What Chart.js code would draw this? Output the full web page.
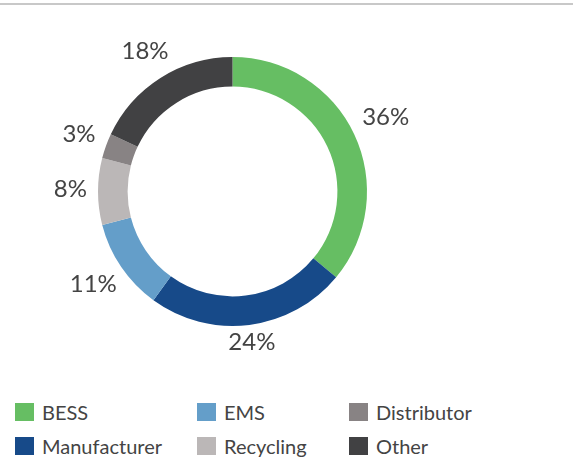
<!DOCTYPE html>
<html>
<head>
<meta charset="utf-8">
<script src="https://cdn.jsdelivr.net/npm/chart.js@4/dist/chart.umd.min.js"></script>
<style>
    html, body { margin: 0; padding: 0; background: #fff; }
    body { width: 573px; height: 458px; position: relative; overflow: hidden; font-family: Lato, 'Open Sans', sans-serif; }
    .topline { position: absolute; left: 0; top: 3px; width: 573px; height: 2px; background: #c8c8c8; }
    .chart-box { position: absolute; left: 0; top: 0; width: 465px; height: 383px; }
    #legend {
        position: absolute; left: 15px; top: 395px;
        display: grid; grid-template-rows: 34px 34px; grid-auto-flow: column;
        grid-template-columns: 182px 152px auto;
    }
    .item { display: flex; align-items: center; font-size: 20px; line-height: 20px; color: #444; }
    .swatch { width: 19px; height: 18px; margin-right: 8px; }
</style>
</head>
<body>
<div class="topline"></div>
<div class="chart-box"><canvas id="donut"></canvas></div>
<div id="legend"></div>
<script>
// Share by segment, clockwise from 12 o'clock
const SEGMENTS = ['BESS', 'Manufacturer', 'EMS', 'Recycling', 'Distributor', 'Other'];
const SHARES = [36, 24, 11, 8, 3, 18];
const COLORS = ['#66be63', '#174a89', '#649ec9', '#bbb7b7', '#888384', '#414143'];

const TEXT_COLOR = '#444';

// percentage labels outside the ring
const outsideLabels = {
    id: 'outsideLabels',
    afterDatasetsDraw(chart) {
        const ctx = chart.ctx;
        const arcs = chart.getDatasetMeta(0).data;
        ctx.save();
        ctx.font = '24px Lato, "Open Sans", sans-serif';
        ctx.fillStyle = TEXT_COLOR;
        ctx.textAlign = 'center';
        ctx.textBaseline = 'middle';
        arcs.forEach((arc, i) => {
            const p = arc.getProps(['x', 'y', 'startAngle', 'endAngle', 'outerRadius'], true);
            const mid = (p.startAngle + p.endAngle) / 2;
            const txt = SHARES[i] + '%';
            const w = ctx.measureText(txt).width;
            const h = 12;
            const c = Math.cos(mid), s = Math.sin(mid);
            const r = p.outerRadius + 11 + Math.abs(c) * w / 2 + Math.abs(s) * h / 2;
            ctx.fillText(txt, p.x + c * r, p.y + s * r - 2);
        });
        ctx.restore();
    }
};

const chart = new Chart(document.getElementById('donut'), {
    type: 'doughnut',
    data: {
        labels: SEGMENTS,
        datasets: [{
            data: SHARES,
            backgroundColor: COLORS,
            borderWidth: 0
        }]
    },
    options: {
        responsive: true,
        maintainAspectRatio: false,
        animation: false,
        cutout: '78%',
        layout: { padding: { left: 98, right: 98, top: 57, bottom: 57 } },
        plugins: {
            legend: { display: false },
            tooltip: { enabled: false }
        }
    },
    plugins: [outsideLabels]
});

// legend, filled column by column
const legend = document.getElementById('legend');
legend.innerHTML = SEGMENTS.map((name, i) =>
    `<div class="item"><span class="swatch" style="background:${COLORS[i]}"></span>${name}</div>`
).join('');
</script>
</body>
</html>
